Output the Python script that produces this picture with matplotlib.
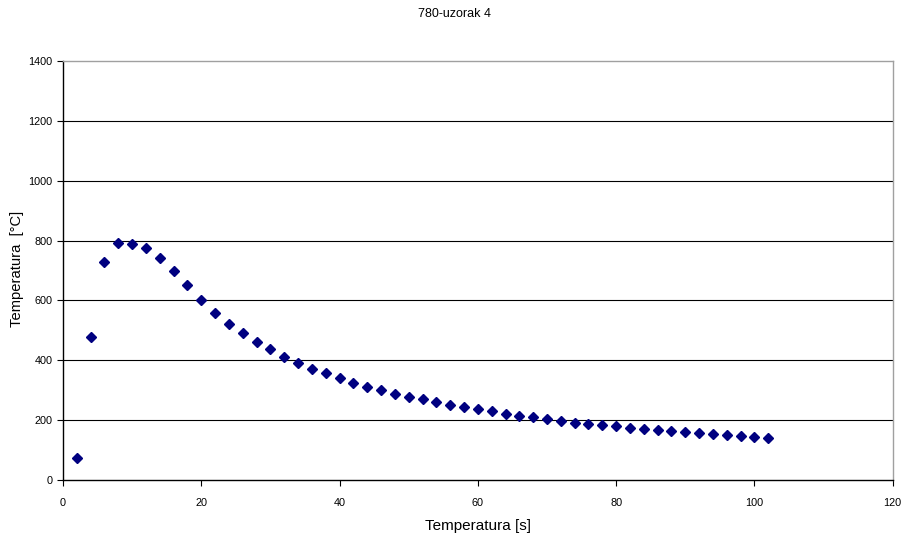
import matplotlib
matplotlib.use("Agg")
import matplotlib.pyplot as plt

plt.rcParams['font.family'] = ['Liberation Sans', 'DejaVu Sans']

time_s = [2, 4, 6, 8, 10, 12, 14, 16, 18, 20, 22, 24, 26, 28, 30, 32, 34,
          36, 38, 40, 42, 44, 46, 48, 50, 52, 54, 56, 58, 60, 62, 64, 66,
          68, 70, 72, 74, 76, 78, 80, 82, 84, 86, 88, 90, 92, 94, 96, 98,
          100, 102]
temp_c = [73, 478, 730, 791, 787, 776, 742, 698, 650, 602, 559, 522, 490,
          461, 437, 412, 391, 372, 356, 340, 324, 312, 300, 289, 278, 269,
          259, 251, 243, 236, 229, 222, 215, 209, 203, 198, 192, 188, 184,
          180, 174, 170, 167, 163, 160, 158, 154, 152, 148, 144, 140]

title = "780-uzorak 4"
xlabel = "Temperatura [s]"
ylabel = "Temperatura  [°C]"
xticks = [0, 20, 40, 60, 80, 100, 120]
yticks = [0, 200, 400, 600, 800, 1000, 1200, 1400]

fig = plt.figure(figsize=(9.08, 5.37), dpi=100)
ax = fig.add_axes([63/908, 57/537, (892.7-63)/908, (480-61)/537])

for yv in yticks[1:-1]:
    ax.axhline(yv, color='#000000', linewidth=0.8, zorder=1)

ax.plot(time_s, temp_c, linestyle='none', marker='D', markersize=5,
        color='#000080', markeredgecolor='#000080', zorder=3)

ax.set_xlim(0, 120)
ax.set_ylim(0, 1400)
ax.set_xticks(xticks)
ax.set_yticks(yticks)
ax.tick_params(direction='out', length=4, width=0.8, labelsize=7.8, colors='black')
ax.tick_params(axis='y', pad=3.5)
ax.tick_params(axis='x', pad=9)

ax.spines['left'].set_color('black')
ax.spines['bottom'].set_color('black')
ax.spines['top'].set_color('#a0a0a0')
ax.spines['right'].set_color('#a0a0a0')
for s in ax.spines.values():
    s.set_linewidth(1.0)

fig.text(0.5, 1 - 14/537, title, ha='center', va='center', fontsize=9)
fig.text(478/908, 1 - 526/537, xlabel, ha='center', va='center', fontsize=11)
fig.text(17.5/908, 1 - 269/537, ylabel, ha='center', va='center', rotation=90, fontsize=10.6)

fig.savefig("out.png", dpi=100)
